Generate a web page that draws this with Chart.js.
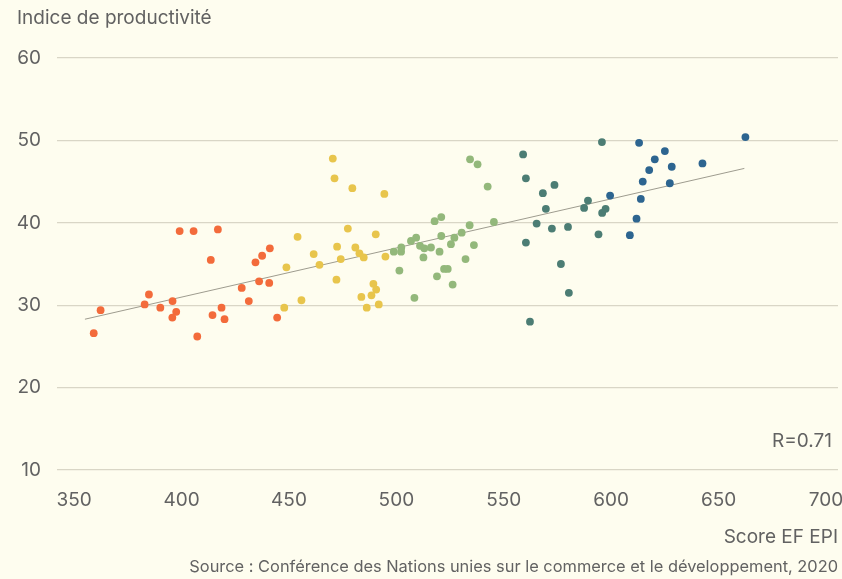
<!DOCTYPE html>
<html>
<head>
<meta charset="utf-8">
<script src="https://cdn.jsdelivr.net/npm/chart.js@4"></script>
<style>
  html, body { margin: 0; padding: 0; background: #fefdef; }
  #wrap { position: relative; width: 842px; height: 579px; }
</style>
</head>
<body>
<div id="wrap"><canvas id="chart" width="842" height="579"></canvas></div>
<script>
// --------- Data ---------

const orangeX = [359.1, 362.3, 382.8, 384.8, 390.1, 395.8, 397.5, 395.7, 399.1, 405.6, 407.3, 413.6,
  416.9, 414.4, 418.6, 420.0, 428.0, 431.3, 434.4, 437.5, 441.1, 436.1, 440.8, 444.5];
const orangeY = [26.6, 29.4, 30.1, 31.3, 29.7, 30.5, 29.2, 28.5, 39.0, 39.0, 26.2, 35.5,
  39.2, 28.8, 29.7, 28.3, 32.1, 30.5, 35.2, 36.0, 36.9, 32.9, 32.7, 28.5];

const yellowX = [470.4, 471.2, 479.5, 494.4, 477.4, 454.0, 490.4, 472.4, 480.9, 482.8, 484.8, 461.5,
  474.1, 464.2, 494.9, 448.8, 472.1, 489.3, 490.6, 488.4, 483.7, 491.8, 455.8, 447.8, 486.2];
const yellowY = [47.8, 45.4, 44.2, 43.5, 39.3, 38.3, 38.6, 37.1, 37.0, 36.3, 35.8, 36.2,
  35.6, 34.9, 35.9, 34.6, 33.1, 32.6, 31.9, 31.2, 31.0, 30.1, 30.6, 29.7, 29.7];

const greenX = [498.8, 502.2, 502.3, 501.4, 508.4, 506.8, 509.2, 534.3, 537.8, 542.5, 517.8, 520.9,
  545.4, 534.1, 530.4, 527.0, 520.9, 511.0, 513.0, 516.1, 512.6, 520.1, 525.4, 536.1, 532.2,
  522.2, 523.9, 518.9, 526.2];
const greenY = [36.5, 36.5, 37.0, 34.2, 30.9, 37.8, 38.2, 47.7, 47.1, 44.4, 40.2, 40.7,
  40.1, 39.7, 38.8, 38.2, 38.4, 37.2, 36.9, 37.0, 35.8, 36.5, 37.4, 37.3, 35.6,
  34.4, 34.4, 33.5, 32.5];

const tealX = [559.0, 560.3, 568.2, 573.6, 569.6, 565.3, 572.4, 560.3, 576.6, 580.3, 562.2, 579.9,
  587.4, 589.2, 595.7, 594.1, 595.8, 597.4];
const tealY = [48.3, 45.4, 43.6, 44.6, 41.7, 39.9, 39.3, 37.6, 35.0, 31.5, 28.0, 39.5,
  41.8, 42.7, 49.8, 38.6, 41.2, 41.7];

const blueX = [599.5, 608.7, 611.8, 613.8, 614.7, 617.7, 613.0, 620.3, 625.0, 628.2, 627.3, 642.5, 662.5];
const blueY = [43.3, 38.5, 40.5, 42.9, 45.0, 46.4, 49.7, 47.7, 48.7, 46.8, 44.8, 47.2, 50.4];

// fitted line, two ends
const trendX = [355, 662];
const trendY = [28.3, 46.6];

const xTicks = [350, 400, 450, 500, 550, 600, 650, 700];
const yTicks = [10, 20, 30, 40, 50, 60];

const FONT = "Inter, 'Noto Sans', sans-serif";
const TEXT = "#626262";

function toPoints(xs, ys) {
  return xs.map((x, i) => ({ x: x, y: ys[i] }));
}

function dots(xs, ys, color) {
  return {
    type: "scatter",
    data: toPoints(xs, ys),
    backgroundColor: color,
    borderWidth: 0,
    pointRadius: 3.9,
    order: 0
  };
}

// extra texts: axis titles, source, R value
const labelsPlugin = {
  id: "labels",
  afterDraw(chart) {
    const ctx = chart.ctx;
    ctx.save();
    ctx.fillStyle = TEXT;
    ctx.textBaseline = "alphabetic";
    ctx.font = "19px " + FONT;
    ctx.textAlign = "left";
    ctx.fillText("Indice de productivité", 17, 24);
    ctx.textAlign = "right";
    ctx.fillText("R=0.71", 832, 447);
    ctx.fillText("Score EF EPI", 838, 543);
    ctx.font = "16.4px " + FONT;
    ctx.fillText("Source : Conférence des Nations unies sur le commerce et le développement, 2020", 838, 572);
    ctx.restore();
  }
};

const canvasBg = {
  id: "bg",
  beforeDraw(chart) {
    const ctx = chart.ctx;
    ctx.save();
    ctx.fillStyle = "#fefdef";
    ctx.fillRect(0, 0, chart.width, chart.height);
    ctx.restore();
  }
};

new Chart(document.getElementById("chart"), {
  data: {
    datasets: [
      {
        type: "line",
        data: toPoints(trendX, trendY),
        borderColor: "#9e9c8f",
        borderWidth: 1,
        pointRadius: 0,
        fill: false,
        order: 1
      },
      dots(orangeX, orangeY, "#f36b3b"),
      dots(yellowX, yellowY, "#e8c54c"),
      dots(greenX, greenY, "#93b87b"),
      dots(tealX, tealY, "#4c7d74"),
      dots(blueX, blueY, "#2d6590")
    ]
  },
  options: {
    responsive: false,
    animation: false,
    layout: { padding: { left: 0, right: 3, top: 58, bottom: 0 } },
    plugins: {
      legend: { display: false },
      tooltip: { enabled: false }
    },
    scales: {
      x: {
        type: "linear",
        min: 342,
        max: 705.6,
        afterBuildTicks: (s) => { s.ticks = xTicks.map(v => ({ value: v })); },
        afterFit: (s) => { s.height = 109; s.paddingRight = 0; s.paddingLeft = 0; },
        grid: { display: false, drawTicks: false },
        border: { display: false },
        ticks: { color: TEXT, font: { family: FONT, size: 19 }, padding: 19, maxRotation: 0 }
      },
      y: {
        type: "linear",
        min: 10,
        max: 60,
        afterBuildTicks: (s) => { s.ticks = yTicks.map(v => ({ value: v })); },
        afterFit: (s) => { s.width = 57; },
        grid: { color: "#d9d6c6", lineWidth: 1.2, drawTicks: false },
        border: { display: false },
        ticks: { color: TEXT, font: { family: FONT, size: 19 }, padding: 16 }
      }
    }
  },
  plugins: [canvasBg, labelsPlugin]
});
</script>
</body>
</html>
